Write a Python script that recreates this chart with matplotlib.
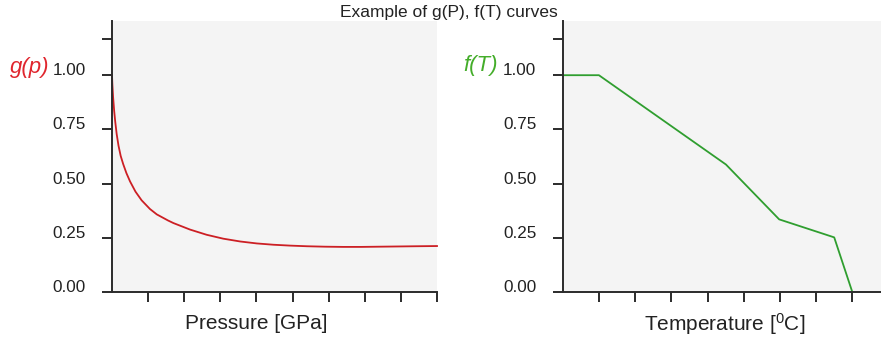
import matplotlib
matplotlib.use("Agg")
import matplotlib.pyplot as plt
from matplotlib.transforms import ScaledTranslation

plt.rcParams['font.family'] = ['Liberation Sans', 'DejaVu Sans']
plt.rcParams['mathtext.default'] = 'regular'

# g(p) curve
pressure = [0.0, 0.01, 0.03, 0.06, 0.09, 0.13, 0.18, 0.24, 0.31, 0.40, 0.50, 0.65,
            0.82, 1.05, 1.24, 1.55, 1.70, 2.16, 2.62, 3.08, 3.55, 4.01, 4.47, 4.93,
            5.4, 5.9, 6.4, 6.9, 7.4, 7.9, 8.4, 9.0]
g_values = [1.0, 0.958, 0.90, 0.835, 0.785, 0.728, 0.675, 0.628, 0.590, 0.548, 0.510,
            0.463, 0.423, 0.383, 0.358, 0.330, 0.318, 0.288, 0.264, 0.246, 0.233,
            0.224, 0.218, 0.214, 0.211, 0.209, 0.208, 0.208, 0.209, 0.210, 0.211, 0.212]

# f(T) piecewise linear curve
temperature = [0.0, 1.0, 4.51, 5.98, 7.5, 8.0]
f_values = [1.0, 1.0, 0.588, 0.335, 0.252, 0.0]

y_ticks = [0.0, 0.25, 0.5, 0.75, 1.0, 1.165]
y_labels = ['0.00', '0.25', '0.50', '0.75', '1.00', '']

TEXT = '#222222'
SPINE = '#2b2b2b'


def style_axes(ax, fig, n_xticks):
    ax.set_facecolor('#f4f4f4')
    for side in ['top', 'right']:
        ax.spines[side].set_visible(False)
    for side in ['left', 'bottom']:
        ax.spines[side].set_color(SPINE)
        ax.spines[side].set_linewidth(1.4)
    ax.set_xlim(0, 9)
    ax.set_ylim(0, 1.25)
    ax.set_xticks(range(1, n_xticks + 1))
    ax.set_xticklabels([])
    ax.set_yticks(y_ticks)
    ax.set_yticklabels(y_labels)
    ax.tick_params(axis='both', direction='out', length=7, width=1.4,
                   color=SPINE, labelcolor=TEXT, labelsize=12.3)
    ax.tick_params(axis='y', pad=12)
    shift = ScaledTranslation(0, 6 / 100, fig.dpi_scale_trans)
    for lab in ax.get_yticklabels():
        lab.set_transform(lab.get_transform() + shift)


fig = plt.figure(figsize=(8.81, 3.41), dpi=100)

ax1 = fig.add_axes([112 / 881, 49 / 341, 325 / 881, 271 / 341])
style_axes(ax1, fig, 9)
ax1.plot(pressure, g_values, color='#cc1f24', lw=1.3, clip_on=False)
ax1.set_xlabel('Pressure [GPa]', fontsize=15, color=TEXT, va='center')
ax1.xaxis.set_label_coords(0.443, -0.118)

ax2 = fig.add_axes([562.7 / 881, 49 / 341, 325.8 / 881, 271 / 341])
style_axes(ax2, fig, 9)
ax2.plot(temperature, f_values, color='#2f9e2f', lw=1.3, clip_on=False)
ax2.set_xlabel('Temperature [$^{0}$C]', fontsize=15, color=TEXT, va='center')
ax2.xaxis.set_label_coords(0.498, -0.118)

fig.text(30 / 881, 1 - 67 / 341, 'g(p)', color='#e0262e', fontsize=16,
         style='italic', ha='center', va='center')
fig.text(481 / 881, 1 - 66 / 341, 'f(T)', color='#44ad2a', fontsize=16,
         style='italic', ha='center', va='center')
fig.text(448.5 / 881, 1 - 13 / 341, 'Example of g(P), f(T) curves',
         fontsize=12.5, color=TEXT, ha='center', va='center')

fig.savefig('out.png', dpi=100)
